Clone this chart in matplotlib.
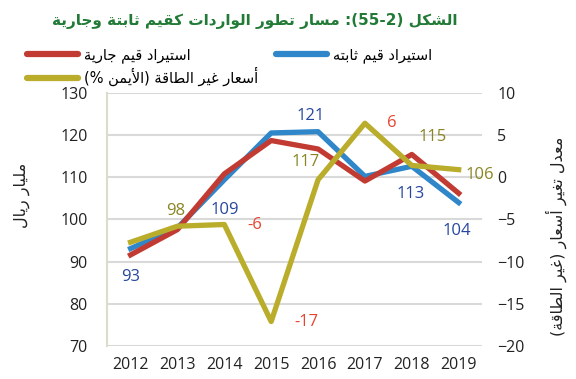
import matplotlib
matplotlib.use("Agg")
import matplotlib.pyplot as plt
from matplotlib.lines import Line2D
import re

years = [2012, 2013, 2014, 2015, 2016, 2017, 2018, 2019]
current_imports = [91.6, 97.6, 110.8, 118.7, 116.7, 109.1, 115.4, 106.2]   # قيم جارية
constant_imports = [93.1, 98.0, 109.4, 120.5, 120.8, 110.2, 112.6, 104.0]  # قيم ثابتة
nonenergy_prices = [-7.7, -5.8, -5.6, -17.1, -0.3, 6.4, 1.4, 0.9]          # % (right axis)

title_txt = "الشكل (2-55): مسار تطور الواردات كقيم ثابتة وجارية"
lbl_current = "استيراد قيم جارية"
lbl_constant = "استيراد قيم ثابته"
lbl_prices = "أسعار غير الطاقة (الأيمن %)"
ylabel_left = "مليار ريال"
ylabel_right = "معدل تغير أسعار (غير الطاقة)"

# --- tiny arabic shaper (presentation forms + reversed order) ---
DUAL = {'ب': 0xFE8F, 'ت': 0xFE95, 'ث': 0xFE99, 'ج': 0xFE9D, 'ح': 0xFEA1, 'خ': 0xFEA5,
        'س': 0xFEB1, 'ش': 0xFEB5, 'ص': 0xFEB9, 'ض': 0xFEBD, 'ط': 0xFEC1, 'ظ': 0xFEC5,
        'ع': 0xFEC9, 'غ': 0xFECD, 'ف': 0xFED1, 'ق': 0xFED5, 'ك': 0xFED9, 'ل': 0xFEDD,
        'م': 0xFEE1, 'ن': 0xFEE5, 'ه': 0xFEE9, 'ي': 0xFEF1, 'ئ': 0xFE89}
RIGHT = {'ا': 0xFE8D, 'أ': 0xFE83, 'إ': 0xFE87, 'آ': 0xFE81, 'ة': 0xFE93, 'د': 0xFEA9,
         'ذ': 0xFEAB, 'ر': 0xFEAD, 'ز': 0xFEAF, 'و': 0xFEED, 'ى': 0xFEEF, 'ؤ': 0xFE85}
LAM_ALEF = {'ا': 0xFEFB, 'أ': 0xFEF7, 'إ': 0xFEF9, 'آ': 0xFEF5}


def ar(s):
    toks = []
    i = 0
    while i < len(s):
        if s[i] == 'ل' and i + 1 < len(s) and s[i + 1] in LAM_ALEF:
            toks.append(('LA', s[i + 1]))
            i += 2
        else:
            toks.append(s[i])
            i += 1

    def fwd(t):
        return isinstance(t, str) and t in DUAL

    def back(t):
        return isinstance(t, tuple) or (t in DUAL or t in RIGHT)

    out = []
    for k, t in enumerate(toks):
        prev = toks[k - 1] if k > 0 else None
        nxt = toks[k + 1] if k + 1 < len(toks) else None
        p = prev is not None and fwd(prev)
        if isinstance(t, tuple):
            out.append(chr(LAM_ALEF[t[1]] + (1 if p else 0)))
        elif t in DUAL:
            n = nxt is not None and back(nxt)
            off = 3 if (p and n) else 1 if p else 2 if n else 0
            out.append(chr(DUAL[t] + off))
        elif t in RIGHT:
            out.append(chr(RIGHT[t] + (1 if p else 0)))
        else:
            out.append(t)
    vis = ''.join(reversed(out))
    vis = vis.translate(str.maketrans('()', ')('))
    vis = re.sub(r'\d+', lambda m: m.group(0)[::-1], vis)
    return vis


RED = '#c23b33'
BLUE = '#2f86c9'
OLIVE = '#b9ad2b'
LAB_BLUE = '#27479f'
LAB_RED = '#e8442f'
LAB_OLIVE = '#8a8423'
GRID = '#d9d9d9'

num_font = 'Open Sans'
ar_font = 'DejaVu Sans'

fig = plt.figure(figsize=(5.76, 3.79), dpi=100)
ax = fig.add_axes([0.186, 0.087, 0.651, 0.668])
ax2 = ax.twinx()

x = list(range(len(years)))
ax.plot(x, constant_imports, color=BLUE, lw=3.8, zorder=3)
ax.plot(x, current_imports, color=RED, lw=3.8, zorder=4)
ax2.plot(x, nonenergy_prices, color=OLIVE, lw=3.8, zorder=5)

ax.set_xlim(-0.5, 7.5)
ax.set_ylim(70, 130)
ax2.set_ylim(-20, 10)
ax.set_yticks(range(70, 131, 10))
ax2.set_yticks(range(-20, 11, 5))
ax.set_xticks(x)
ax.set_xticklabels([str(y) for y in years])
ax.grid(axis='y', color=GRID, lw=1.5)
ax.set_axisbelow(True)

for a in (ax, ax2):
    for side in ('top', 'right', 'bottom', 'left'):
        a.spines[side].set_visible(False)
    a.tick_params(length=0, labelsize=11.5, colors='#222222')
    for t in a.get_xticklabels() + a.get_yticklabels():
        t.set_family(num_font)
ax.spines['left'].set_visible(True)
ax.spines['left'].set_color('#dcdccc')
ax.spines['left'].set_linewidth(1.5)
ax.tick_params(axis='y', pad=14)
ax.tick_params(axis='x', pad=8)
ax2.tick_params(axis='y', pad=11)

ax2.set_zorder(ax.get_zorder() + 1)
ax2.patch.set_visible(False)

# value labels: (axis, series, index, offset in points, colour)
labels = [
    (ax, constant_imports, 0, (0, -20.6), LAB_BLUE),
    (ax, constant_imports, 1, (-1.5, 12.5), LAB_OLIVE),
    (ax, constant_imports, 2, (0, -22), LAB_BLUE),
    (ax2, nonenergy_prices, 2, (22, 0), LAB_RED),
    (ax, constant_imports, 4, (-5, 11.5), LAB_BLUE),
    (ax, current_imports, 4, (-9, -9.6), LAB_OLIVE),
    (ax2, nonenergy_prices, 3, (25.4, 0), LAB_RED),
    (ax2, nonenergy_prices, 5, (19, 0), LAB_RED),
    (ax, current_imports, 6, (14.8, 12.7), LAB_OLIVE),
    (ax, constant_imports, 6, (-0.8, -19.7), LAB_BLUE),
    (ax, constant_imports, 7, (-1.2, -20.6), LAB_BLUE),
    (ax, current_imports, 7, (15.6, 13), LAB_OLIVE),
]
for a, series, i, off, col in labels:
    v = series[i]
    ax2.annotate(str(int(round(v))), xy=(i, v), xycoords=a.transData,
                 xytext=off, textcoords='offset points', ha='center', va='center',
                 color=col, fontsize=12, family=num_font, zorder=10,
                 annotation_clip=False)

fig.text(0.443, 1 - 21 / 379, ar(title_txt), ha='center', va='center', color='#217a35',
         fontsize=11, fontweight='bold', family=ar_font)

fig.text(22 / 576, 1 - 195 / 379, ar(ylabel_left), rotation=90, ha='center', va='center',
         fontsize=11.5, family=ar_font, color='#222222')
fig.text(556 / 576, 1 - 236 / 379, ar(ylabel_right), rotation=90, ha='center', va='center',
         fontsize=11.5, family=ar_font, color='#222222')

handles = [
    Line2D([], [], color=RED, lw=4.5, solid_capstyle='round'),
    Line2D([], [], color=OLIVE, lw=4.5, solid_capstyle='round'),
    Line2D([], [], color=BLUE, lw=4.5, solid_capstyle='round'),
]
names = [ar(lbl_current), ar(lbl_prices), ar(lbl_constant)]
fig.legend(handles, names, ncol=2, loc='upper left', bbox_to_anchor=(0.035, 0.895),
           frameon=False, prop={'family': ar_font, 'size': 10.5}, handlelength=3.5,
           handletextpad=0.4, columnspacing=1.2, labelspacing=0.3, borderpad=0)

fig.savefig('out.png', dpi=100)
